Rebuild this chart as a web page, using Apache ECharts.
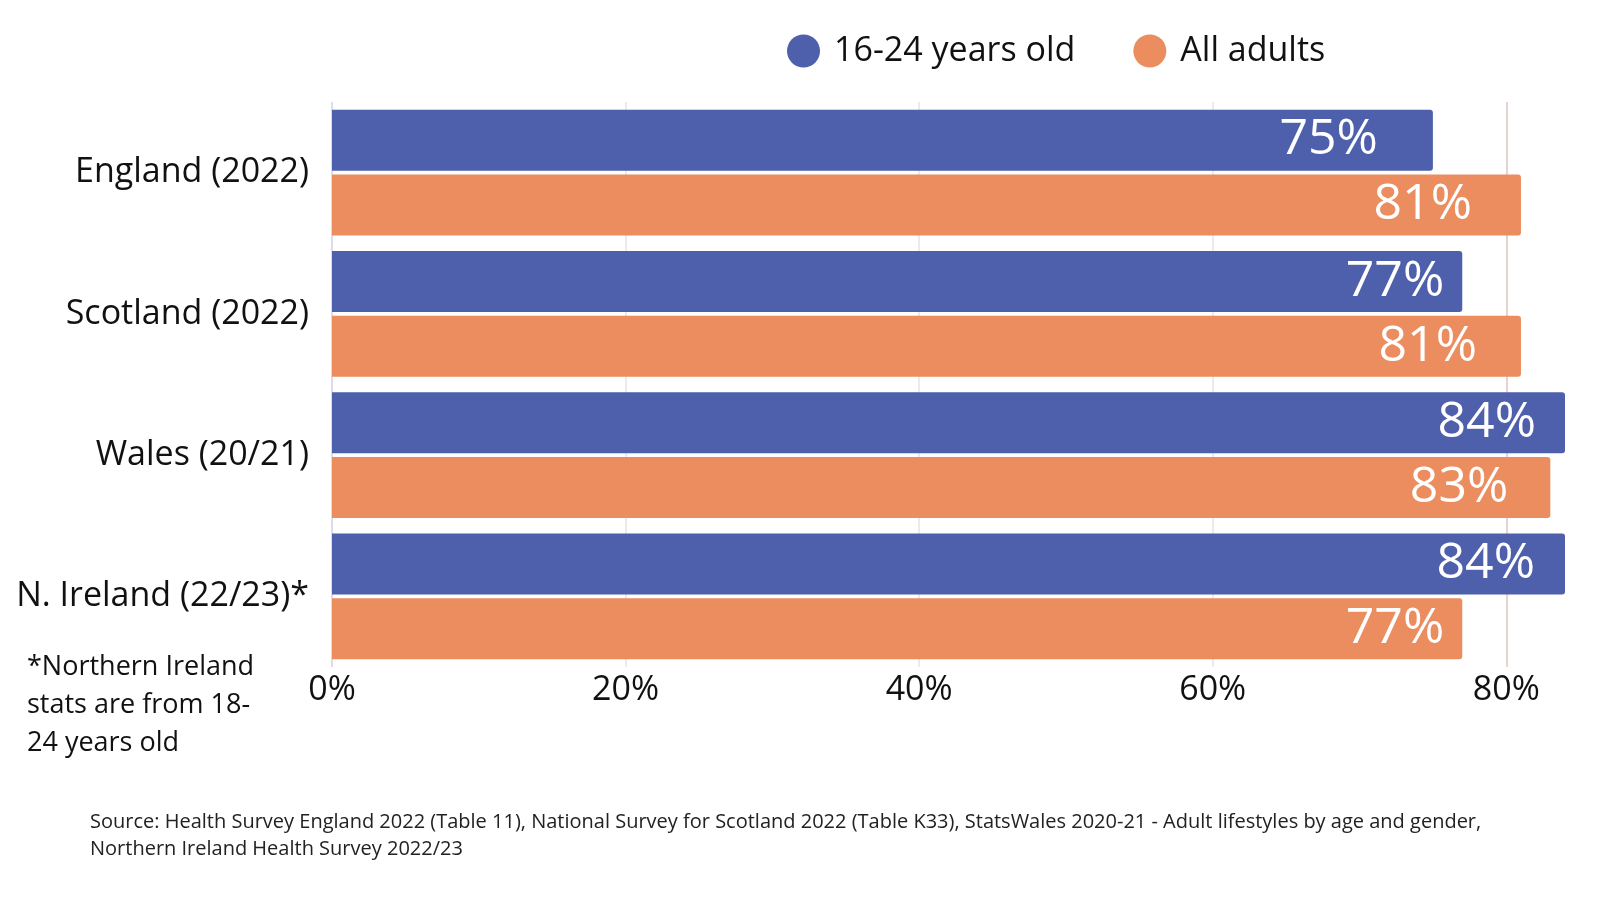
<!DOCTYPE html>
<html>
<head>
<meta charset="utf-8">
<script src="https://cdn.jsdelivr.net/npm/echarts@6/dist/echarts.min.js"></script>
<style>
html,body{margin:0;padding:0;background:#fff;}
#chart{width:1600px;height:900px;}
</style>
</head>
<body>
<div id="chart"></div>
<script>
const categories = ['England (2022)', 'Scotland (2022)', 'Wales (20/21)', 'N. Ireland (22/23)*'];
const seriesNames = ['16-24 years old', 'All adults'];
const youngValues = [75, 77, 84, 84];
const adultValues = [81, 81, 83, 77];
const xTicks = [0, 20, 40, 60, 80];
const footnoteLines = ['*Northern Ireland', 'stats are from 18-', '24 years old'];
const sourceLines = [
  'Source: Health Survey England 2022 (Table 11), National Survey for Scotland 2022 (Table K33), StatsWales 2020-21 - Adult lifestyles by age and gender,',
  'Northern Ireland Health Survey 2022/23'
];

// styling only: how far each value label sits in from its bar end (px)
const youngLabelInset = [55, 18, 29, 30];
const adultLabelInset = [49, 44, 42, 18];

const FONT = '"Open Sans", "Noto Sans", sans-serif';
const chart = echarts.init(document.getElementById('chart'));

const labelBase = {
  show: true,
  position: 'insideRight',
  color: '#ffffff',
  fontSize: 50,
  fontFamily: FONT,
  formatter: p => p.value + '%'
};
const withLabels = (vals, insets) => vals.map((v, i) => ({
  value: v,
  label: Object.assign({}, labelBase, { distance: insets[i] })
}));

chart.setOption({
  backgroundColor: '#ffffff',
  animation: false,
  textStyle: { fontFamily: FONT },
  legend: {
    data: seriesNames,
    left: 782,
    top: 29,
    icon: 'circle',
    itemWidth: 33,
    itemHeight: 33,
    itemGap: 58,
    textStyle: { fontSize: 34, color: '#111', fontFamily: FONT, padding: [0, 0, 0, 9] }
  },
  grid: { left: 332, right: 35, top: 102, bottom: 233, containLabel: false },
  xAxis: {
    type: 'value',
    min: xTicks[0],
    max: 84,
    interval: 20,
    axisLine: { show: false },
    axisTick: { show: false },
    axisLabel: {
      fontSize: 34, color: '#111', fontFamily: FONT, margin: 6,
      showMaxLabel: false,
      formatter: v => (xTicks.indexOf(v) >= 0 ? v + '%' : '')
    },
    splitLine: {
      show: true,
      lineStyle: { color: ['#cfd3e3', '#e4e4e4', '#e4e4e4', '#e4e4e4', '#dcc6c0', 'rgba(0,0,0,0)'], width: 1.5 }
    }
  },
  yAxis: {
    type: 'category',
    data: categories,
    inverse: true,
    axisLine: { show: false },
    axisTick: { show: false },
    axisLabel: { fontSize: 34, color: '#111', fontFamily: FONT, margin: 23 }
  },
  series: [
    {
      name: seriesNames[0],
      type: 'bar',
      data: withLabels(youngValues, youngLabelInset),
      barWidth: 61,
      barGap: '6.5%',
      itemStyle: { color: '#4E5FAB', borderRadius: [0, 3, 3, 0] },
      label: labelBase
    },
    {
      name: seriesNames[1],
      type: 'bar',
      data: withLabels(adultValues, adultLabelInset),
      barWidth: 61,
      itemStyle: { color: '#EB8D5E', borderRadius: [0, 3, 3, 0] },
      label: labelBase
    }
  ],
  graphic: [
    {
      type: 'text', left: 27, top: 648,
      style: { text: footnoteLines.join('\n'), fontSize: 27, lineHeight: 38, fill: '#111', fontFamily: FONT }
    },
    {
      type: 'text', left: 90, top: 809,
      style: { text: sourceLines.join('\n'), fontSize: 20, lineHeight: 27, fill: '#222', fontFamily: FONT }
    }
  ]
});
</script>
</body>
</html>
